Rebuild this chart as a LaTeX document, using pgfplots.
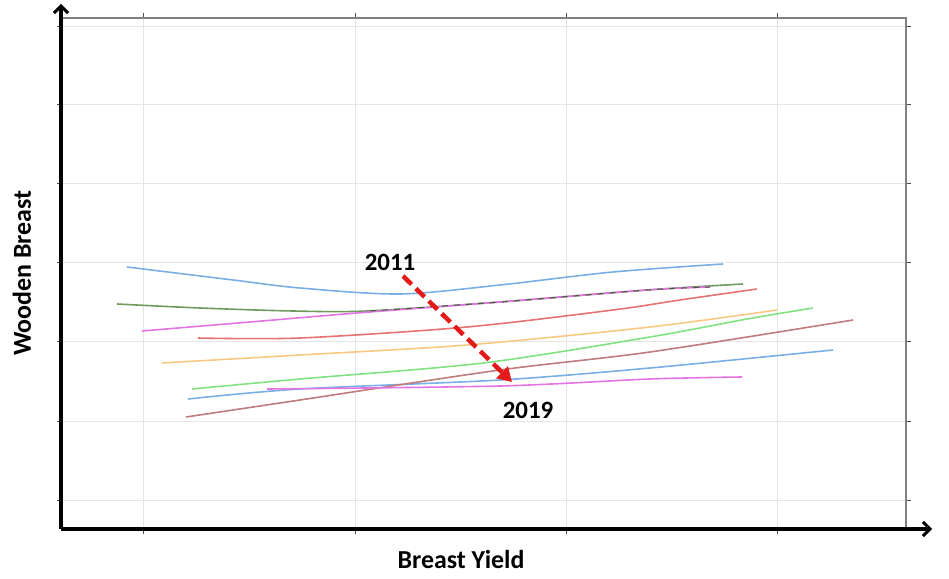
\documentclass[border=0pt]{standalone}
\usepackage{fontspec}
\setmainfont{Carlito}
\usepackage{pgfplots}
\pgfplotsset{compat=1.18}
\usetikzlibrary{arrows.meta}
\definecolor{lblue}{HTML}{7AAEE6}
\definecolor{dgreen}{HTML}{6E9A5E}
\definecolor{mag}{HTML}{E474E4}
\definecolor{lred}{HTML}{E87272}
\definecolor{lorange}{HTML}{F8C882}
\definecolor{lgreen}{HTML}{82E282}
\definecolor{brown}{HTML}{C07C7C}
\definecolor{arrred}{HTML}{E41A1A}
\begin{document}
\begin{tikzpicture}
\begin{axis}[
  scale only axis, width=844bp, height=511bp,
  xmin=62, xmax=906, ymin=50, ymax=561,
  xtick={143,355,566,777}, ytick={79,158,238,317,396,475,553},
  xticklabels={}, yticklabels={},
  tick pos=both, tick align=outside, major tick length=5bp,
  tick style={black!70, line width=0.6bp},
  grid=major, major grid style={black!10, line width=0.7bp},
  axis line style={black!50, line width=1.5bp},
  clip=false,
  every axis plot/.append style={line width=1.6bp, smooth, no markers},
]
\path (axis cs:0,0) rectangle (axis cs:949,579);
\addplot[lblue] coordinates {(127,312)(233,299)(300,291)(400,285)(500,294)(613,307)(723,315)};
\addplot[dgreen] coordinates {(117,275)(200,271)(293,268)(367,268)(500,277)(647,289)(743,295)};
\addplot[mag] coordinates {(142,248)(250,257)(357,266)(500,277)(647,289)(710,292)};
\addplot[dgreen!60!black, dash pattern=on 6bp off 6bp, line width=1bp] coordinates {(370,268)(500,277)(647,289)(710,292)};
\addplot[lred] coordinates {(198,241)(300,241)(467,252)(613,269)(680,279)(757,290)};
\addplot[lorange] coordinates {(162,216)(300,224)(467,234)(650,252)(777,269)};
\addplot[lgreen] coordinates {(192,190)(300,200)(483,216)(650,242)(747,260)(813,271)};
\addplot[lblue] coordinates {(188,180)(300,190)(500,199)(650,211)(833,229)};
\addplot[brown] coordinates {(186,162)(300,179)(500,209)(650,227)(853,259)};
\addplot[mag] coordinates {(267,190)(500,193)(650,200)(742,202)};
% thick black axes with arrows
\draw[black, line width=3.5bp, -{Straight Barb[length=7bp,width=14bp,line width=3bp]}] (axis cs:61,50) -- (axis cs:61,575);
\draw[black, line width=3.5bp, -{Straight Barb[length=7bp,width=14bp,line width=3bp]}] (axis cs:61,50) -- (axis cs:932,50);
% red dashed arrow
\draw[arrred, line width=4.5bp, dash pattern=on 12bp off 6bp, -{Triangle[length=14bp,width=16bp]}] (axis cs:403,303) -- (axis cs:512,197);
\node[font=\bfseries\fontsize{25}{30}\selectfont] at (axis cs:390,317) {2011};
\node[font=\bfseries\fontsize{25}{30}\selectfont] at (axis cs:528,169) {2019};
\node[font=\bfseries\fontsize{26}{30}\selectfont] at (axis cs:461,19) {Breast Yield};
\node[font=\bfseries\fontsize{26}{30}\selectfont, rotate=90] at (axis cs:22,306) {Wooden Breast};
\end{axis}
\end{tikzpicture}
\end{document}
